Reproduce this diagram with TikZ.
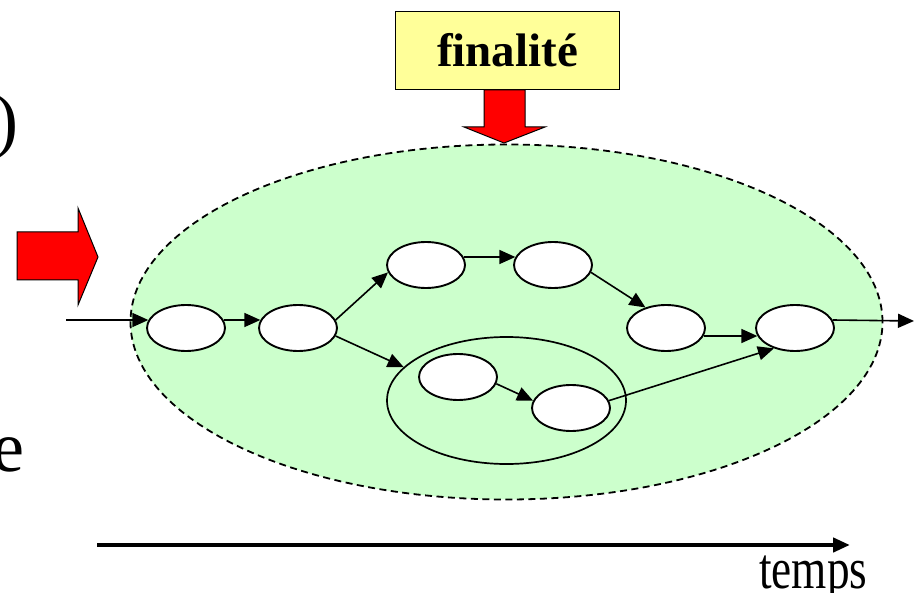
\documentclass[tikz,border=0pt]{standalone}
\usepackage{fontspec}
\usepackage{graphicx}
\setmainfont{Liberation Serif}
\usetikzlibrary{arrows.meta,shapes.geometric}
\definecolor{bggreen}{HTML}{CCFFCC}
\definecolor{boxyellow}{HTML}{FFFF99}
\begin{document}
\begin{tikzpicture}[x=1pt,y=-1pt,
  proc/.style={draw, ellipse, fill=white, line width=1.9pt, minimum width=78pt, minimum height=46pt, inner sep=0pt},
  flow/.style={-{Triangle[length=16pt,width=14pt]}, line width=1.6pt},
  bigarrow/.style={draw=black, line width=1pt, fill=red},
  bigtext/.style={inner sep=0pt, font=\fontsize{72}{72}\selectfont}]
\clip (0,0) rectangle (917,593);
\useasboundingbox (0,0) rectangle (917,593);
\fill[white] (0,0) rectangle (917,593);
% zone
\node[draw, ellipse, fill=bggreen, line width=1.8pt, dash pattern=on 7pt off 4.5pt,
      minimum width=752pt, minimum height=355pt, inner sep=0pt] (zone) at (506.5,322) {};
% group
\node[draw, ellipse, line width=1.7pt, minimum width=239pt, minimum height=127pt, inner sep=0pt] (grp) at (506.5,400.5) {};
% processes
\node[proc] (n1) at (186,328) {};
\node[proc] (n2) at (298,328) {};
\node[proc] (n3) at (426,265) {};
\node[proc] (n4) at (553,265) {};
\node[proc] (n5) at (666,328) {};
\node[proc] (n6) at (795,328) {};
\node[proc] (n7) at (458,377) {};
\node[proc] (n8) at (571,408) {};
% connectors
\coordinate (in) at (66,320);
\coordinate (out) at (914,321);
\draw[flow] (in) -- (n1.168);
\draw[flow] (n1.12) -- (n2.168);
\draw[flow] (n2.12) -- (n3.191);
\draw[flow] (n2.-12) -- (grp.162);
\draw[flow] (n3.12) -- (n4.168);
\draw[flow] (n4.-11) -- (n5.135);
\draw[flow] (n5.-12) -- (n6.192);
\draw[flow] (n6.12) -- (out);
\draw[flow] (n7.-10) -- (n8.169);
\draw[flow] (n8.11) -- (n6.224);
% finalite box
\node[draw, fill=boxyellow, line width=1.5pt, minimum width=224pt, minimum height=78pt, inner sep=0pt,
      font=\bfseries\fontsize{47}{47}\selectfont] (fin) at (507.5,50.5) {finalité};
% red block arrows
\filldraw[bigarrow] (484,90) -- (525,90) -- (525,127) -- (545,127) -- (504,143) -- (464,127) -- (484,127) -- cycle;
\filldraw[bigarrow] (17,232) -- (78,232) -- (78,208) -- (98,257) -- (78,305) -- (78,280) -- (17,280) -- cycle;
% clipped slide text
\node[bigtext, anchor=base east] (paren) at (19,145) {)};
\node[bigtext, anchor=base east] (elet) at (24.5,471) {e};
% time axis
\coordinate (t0) at (97,545);
\coordinate (t1) at (850,545);
\draw[line width=4.5pt, -{Triangle[length=17pt,width=14pt]}] (t0) -- (t1);
\node[anchor=base west, inner sep=0pt, font=\fontsize{58}{58}\selectfont] (temps) at (759,588) {\scalebox{0.78}[1]{temps}};
\end{tikzpicture}
\end{document}
